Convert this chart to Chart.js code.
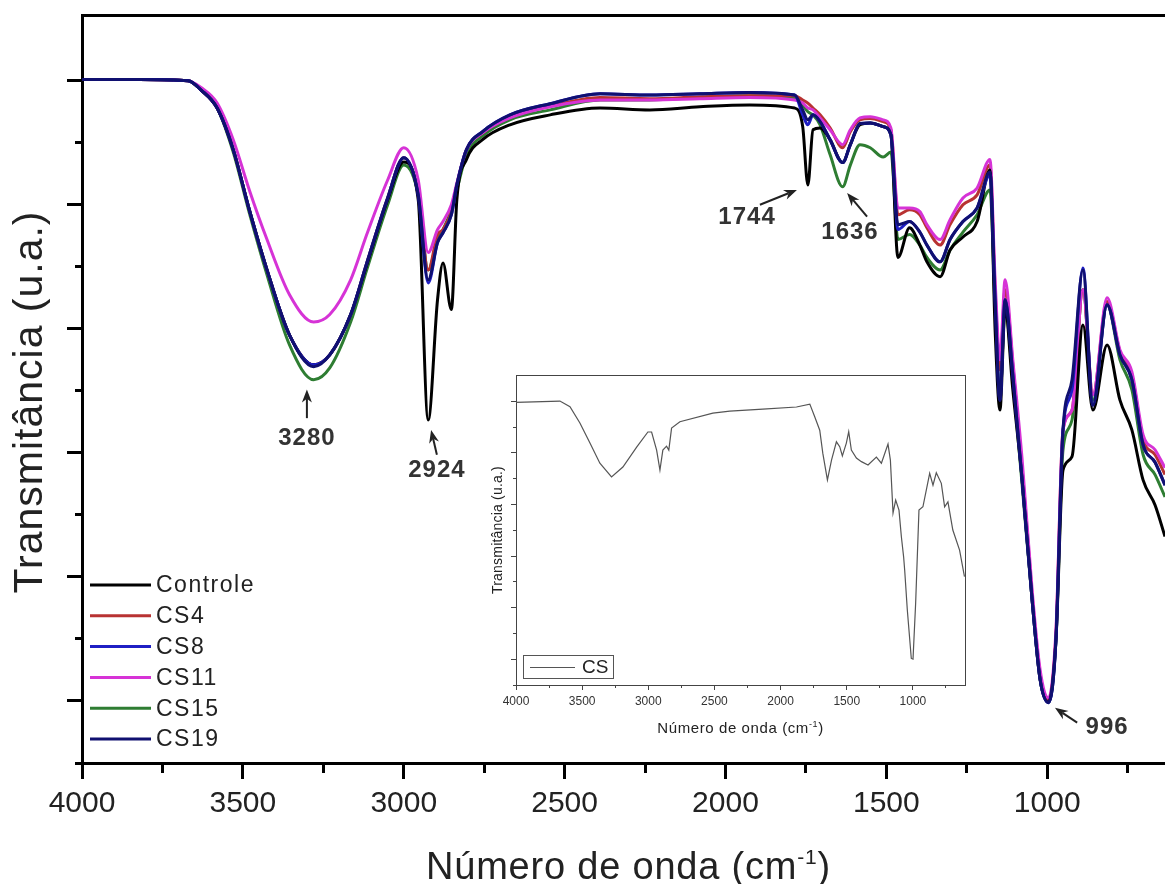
<!DOCTYPE html>
<html>
<head>
<meta charset="utf-8">
<script src="https://cdn.jsdelivr.net/npm/chart.js@4.4.1/dist/chart.umd.min.js"></script>
<style>
  body { margin: 0; background: #fff; }
  #wrap { position: relative; width: 1165px; height: 884px; overflow: hidden; background: #fff; }
  #mainChart { position: absolute; left: 0; top: 0; }
  #insetChart { position: absolute; left: 480px; top: 370px; background: #fff; }
</style>
</head>
<body>
<div id="wrap">
  <canvas id="mainChart" width="1165" height="884"></canvas>
  <canvas id="insetChart" width="490" height="380"></canvas>
</div>
<script>
var waveNumbers = [4000, 3820, 3670, 3630, 3580, 3530, 3480, 3425, 3355, 3280, 3230, 3165, 3115, 3050, 3000, 2955, 2924, 2895, 2878, 2852, 2835, 2805, 2755, 2670, 2545, 2390, 2235, 2080, 1925, 1785, 1760, 1744, 1728, 1706, 1675, 1636, 1612, 1582, 1550, 1510, 1486, 1464, 1428, 1396, 1374, 1333, 1302, 1262, 1218, 1178, 1162, 1147, 1131, 1107, 1078, 1047, 1022, 996, 973, 951, 923, 889, 858, 814, 774, 737, 702, 665, 634];

// transmittance (arbitrary units) per sample
var controle = [110.2, 110.2, 110.0, 108.5, 105.6, 98.9, 89.2, 79.5, 69.0, 64.2, 65.8, 72.3, 80.3, 90.8, 96.9, 90.8, 55.3, 74.7, 80.6, 73.1, 90.8, 97.3, 100.5, 102.9, 104.5, 105.6, 105.3, 105.8, 106.1, 105.6, 102.6, 93.2, 102.1, 102.4, 100.5, 96.8, 99.7, 102.9, 103.2, 102.6, 101.3, 81.5, 86.3, 83.5, 80.8, 78.4, 82.7, 84.8, 87.3, 95.6, 69.8, 56.9, 73.1, 60.2, 45.6, 26.3, 13.4, 9.8, 19.8, 47.2, 49.4, 70.6, 56.9, 67.4, 58.5, 53.7, 45.6, 41.6, 36.5];
var cs4 = [110.2, 110.2, 110.0, 108.5, 105.6, 98.9, 89.2, 79.5, 69.0, 64.2, 65.8, 72.3, 80.6, 91.1, 97.6, 91.9, 79.5, 85.2, 86.0, 88.9, 93.2, 98.9, 101.6, 104.2, 105.9, 107.3, 107.1, 107.4, 107.6, 107.6, 106.9, 106.4, 105.6, 104.5, 102.4, 99.2, 101.8, 103.7, 103.9, 103.4, 102.1, 88.4, 89.2, 88.4, 86.3, 83.5, 86.8, 90.0, 91.6, 96.4, 76.3, 63.4, 76.3, 64.2, 47.3, 27.1, 14.2, 10.2, 20.6, 53.7, 56.9, 76.3, 59.4, 74.4, 66.3, 62.6, 52.1, 49.7, 46.5];
var cs8 = [110.2, 110.2, 110.0, 108.5, 105.6, 98.9, 89.2, 79.5, 69.0, 64.2, 65.8, 72.3, 80.6, 91.1, 97.6, 91.6, 77.4, 83.9, 85.5, 88.4, 93.2, 98.9, 101.8, 104.5, 106.3, 107.9, 107.7, 107.9, 108.1, 107.7, 104.5, 102.9, 104.5, 103.4, 100.5, 96.8, 99.7, 103.1, 103.2, 102.6, 101.3, 86.0, 87.3, 85.6, 83.5, 80.8, 84.4, 87.3, 89.5, 94.8, 74.7, 58.5, 74.7, 62.6, 45.6, 26.3, 13.4, 9.7, 19.8, 53.7, 60.2, 79.8, 57.7, 73.9, 65.8, 61.8, 51.3, 48.5, 44.8];
var cs11 = [110.2, 110.2, 110.0, 108.9, 106.4, 100.5, 92.4, 84.4, 75.5, 71.1, 72.3, 77.9, 85.2, 94.0, 99.2, 94.0, 82.3, 86.0, 87.3, 90.0, 93.5, 98.9, 101.6, 104.0, 105.8, 106.9, 106.9, 107.1, 107.3, 106.9, 106.4, 105.6, 105.3, 104.0, 102.1, 99.7, 102.1, 104.0, 104.2, 103.7, 102.4, 89.5, 89.5, 88.9, 86.8, 84.4, 87.6, 91.1, 92.7, 97.3, 77.9, 65.0, 77.9, 65.0, 48.9, 27.9, 15.0, 10.5, 21.4, 53.7, 56.9, 76.3, 59.4, 75.0, 66.6, 63.1, 52.9, 50.5, 47.6];
var cs15 = [110.2, 110.2, 110.0, 108.5, 105.6, 98.5, 88.7, 78.7, 67.4, 61.8, 63.7, 71.1, 79.5, 90.0, 96.4, 91.6, 79.5, 84.4, 86.0, 89.2, 92.4, 98.1, 101.1, 103.7, 105.3, 106.9, 106.9, 107.3, 107.6, 107.3, 106.1, 105.0, 104.5, 102.9, 98.1, 92.9, 96.4, 99.7, 99.2, 97.7, 98.5, 84.4, 85.2, 83.5, 81.5, 79.5, 82.7, 85.6, 88.4, 92.4, 73.1, 59.4, 73.1, 61.8, 44.8, 26.3, 13.4, 9.8, 19.8, 50.5, 55.3, 76.3, 58.5, 73.9, 65.0, 60.2, 49.7, 46.5, 42.9];
var cs19 = [110.2, 110.2, 110.0, 108.5, 105.6, 98.9, 89.2, 79.5, 69.0, 63.9, 65.8, 72.3, 80.6, 91.1, 97.6, 91.6, 77.9, 83.9, 85.5, 88.4, 93.2, 98.9, 101.8, 104.5, 106.3, 107.9, 107.7, 107.9, 108.1, 107.7, 105.3, 103.7, 104.5, 103.4, 100.5, 96.8, 99.7, 103.1, 103.2, 102.6, 101.3, 86.8, 87.3, 85.6, 83.5, 80.8, 84.4, 87.3, 89.5, 95.3, 74.7, 58.5, 74.7, 62.6, 45.6, 26.3, 13.4, 9.7, 19.8, 53.7, 61.8, 79.5, 57.7, 73.9, 65.8, 61.8, 51.3, 48.5, 44.8];

var seriesNames = ['Controle', 'CS4', 'CS8', 'CS11', 'CS15', 'CS19'];
var seriesValues = [controle, cs4, cs8, cs11, cs15, cs19];

// inset: pure chitosan (CS) spectrum
var insetWave = [4000, 3668, 3592, 3517, 3441, 3366, 3278, 3192, 3088, 3003, 2975, 2937, 2912, 2890, 2862, 2845, 2824, 2761, 2512, 2384, 2134, 1880, 1779, 1742, 1704, 1681, 1646, 1615, 1578, 1553, 1533, 1503, 1485, 1465, 1427, 1389, 1339, 1276, 1238, 1188, 1170, 1150, 1130, 1105, 1087, 1070, 1062, 1042, 1012, 999, 979, 954, 924, 873, 848, 823, 785, 760, 735, 698, 647, 610];
var insetCS = [109.6, 110.1, 107.9, 101.6, 93.8, 86.0, 80.7, 84.5, 92.2, 98.1, 98.1, 91.1, 83.3, 91.1, 92.6, 91.1, 99.6, 102.1, 105.4, 106.2, 107.0, 107.8, 108.9, 104.0, 98.8, 89.9, 79.5, 87.2, 94.3, 92.4, 88.8, 93.8, 98.2, 91.1, 88.0, 86.6, 85.3, 88.4, 86.0, 93.4, 87.2, 66.7, 71.7, 67.8, 57.5, 49.7, 44.6, 29.1, 10.3, 10.0, 31.8, 67.8, 69.1, 82.1, 77.5, 82.3, 78.2, 69.1, 71.0, 60.1, 52.3, 42.0];

// tick values
var xMajorTicks = [4000, 3500, 3000, 2500, 2000, 1500, 1000];
var xMinorTicks = [3750, 3250, 2750, 2250, 1750, 1250, 750];
var yMajorTicks = [10, 30, 50, 70, 90, 110];
var yMinorTicks = [0, 20, 40, 60, 80, 100];

// peak labels with arrows (data coordinates)
var peakNotes = [
  { text: '3280', label: [3301, 52.4], tail: [3301, 55.6], tip: [3301, 60.2] },
  { text: '2924', label: [2897, 47.1], tail: [2897, 49.7], tip: [2915, 53.7] },
  { text: '1744', label: [1933, 87.9], tail: [1893, 90.0], tip: [1778, 92.4] },
  { text: '1636', label: [1613, 85.5], tail: [1560, 88.1], tip: [1622, 91.9] },
  { text: '996', label: [814, 5.8], tail: [907, 6.5], tip: [976, 8.9] }
];

var FONT = "'Liberation Sans', Arial, sans-serif";
var colors = ['#000000', '#b83232', '#1f1fc4', '#d633d6', '#2e7d32', '#101070'];
var drawOrder = [2, 4, 1, 3, 5, 0];

function toPoints(xs, ys) {
  return xs.map(function (x, i) { return { x: x, y: ys[i] }; });
}

function fixedTicks(values) {
  return function (axis) {
    axis.ticks = values.map(function (v) { return { value: v }; });
  };
}

// axis title with the -1 superscript
function drawWaveTitle(ctx, cx, cy, size, supSize, rise, spacing) {
  var base = 'Número de onda (cm', sup = '-1', end = ')';
  ctx.save();
  ctx.letterSpacing = spacing + 'px';
  ctx.fillStyle = '#222';
  ctx.textBaseline = 'alphabetic';
  ctx.textAlign = 'left';
  ctx.font = size + 'px ' + FONT;
  var w1 = ctx.measureText(base).width, w3 = ctx.measureText(end).width;
  ctx.font = supSize + 'px ' + FONT;
  var w2 = ctx.measureText(sup).width;
  var x = cx - (w1 + w2 + w3) / 2;
  var y = cy + size * 0.36;
  ctx.font = size + 'px ' + FONT;
  ctx.fillText(base, x, y);
  ctx.font = supSize + 'px ' + FONT;
  ctx.fillText(sup, x + w1, y - rise);
  ctx.font = size + 'px ' + FONT;
  ctx.fillText(end, x + w1 + w2, y);
  ctx.restore();
}

function drawTransTitle(ctx, cx, cy, size, spacing) {
  ctx.save();
  ctx.translate(cx, cy);
  ctx.rotate(-Math.PI / 2);
  ctx.letterSpacing = spacing + 'px';
  ctx.fillStyle = '#222';
  ctx.font = size + 'px ' + FONT;
  ctx.textAlign = 'center';
  ctx.textBaseline = 'middle';
  ctx.fillText('Transmitância (u.a.)', 0, 0);
  ctx.restore();
}

function drawArrow(ctx, x1, y1, x2, y2) {
  var a = Math.atan2(y2 - y1, x2 - x1);
  var len = 13, half = 5;
  ctx.beginPath();
  ctx.moveTo(x1, y1);
  ctx.lineTo(x2 - Math.cos(a) * len * 0.7, y2 - Math.sin(a) * len * 0.7);
  ctx.stroke();
  ctx.beginPath();
  ctx.moveTo(x2, y2);
  ctx.lineTo(x2 - Math.cos(a) * len - Math.sin(a) * half, y2 - Math.sin(a) * len + Math.cos(a) * half);
  ctx.lineTo(x2 - Math.cos(a) * len * 0.7, y2 - Math.sin(a) * len * 0.7);
  ctx.lineTo(x2 - Math.cos(a) * len + Math.sin(a) * half, y2 - Math.sin(a) * len - Math.cos(a) * half);
  ctx.closePath();
  ctx.fill();
}

var mainDecor = {
  id: 'mainDecor',
  afterDraw: function (chart) {
    var ctx = chart.ctx, area = chart.chartArea;
    var xs = chart.scales.x, ys = chart.scales.y;

    drawWaveTitle(ctx, (area.left + area.right) / 2 + 5, 865, 38, 21, 15, 0.8);
    drawTransTitle(ctx, 31, 402, 41, 1);

    // legend in the lower left corner of the plot
    ctx.save();
    ctx.font = '23px ' + FONT;
    ctx.letterSpacing = '1.5px';
    ctx.textBaseline = 'middle';
    ctx.textAlign = 'left';
    seriesNames.forEach(function (name, i) {
      var y = area.bottom - 178 + i * 30.8;
      ctx.strokeStyle = colors[i];
      ctx.lineWidth = 3;
      ctx.beginPath();
      ctx.moveTo(area.left + 8, y);
      ctx.lineTo(area.left + 69, y);
      ctx.stroke();
      ctx.fillStyle = '#222';
      ctx.fillText(name, area.left + 74, y + 1);
    });
    ctx.restore();

    // peak annotations
    ctx.save();
    ctx.strokeStyle = '#222';
    ctx.fillStyle = '#222';
    ctx.lineWidth = 2;
    peakNotes.forEach(function (n) {
      drawArrow(ctx, xs.getPixelForValue(n.tail[0]), ys.getPixelForValue(n.tail[1]),
        xs.getPixelForValue(n.tip[0]), ys.getPixelForValue(n.tip[1]));
    });
    ctx.font = 'bold 24px ' + FONT;
    ctx.letterSpacing = '1px';
    ctx.textAlign = 'center';
    ctx.textBaseline = 'middle';
    ctx.fillStyle = '#333';
    peakNotes.forEach(function (n) {
      ctx.fillText(n.text, xs.getPixelForValue(n.label[0]), ys.getPixelForValue(n.label[1]));
    });
    ctx.restore();
  }
};

var mainCtx = document.getElementById('mainChart').getContext('2d');
var mainChart = new Chart(mainCtx, {
  type: 'line',
  data: {
    datasets: seriesNames.map(function (name, i) {
      return {
        label: name,
        data: toPoints(waveNumbers, seriesValues[i]),
        borderColor: colors[i],
        borderWidth: 3,
        pointRadius: 0,
        fill: false,
        cubicInterpolationMode: 'monotone',
        order: drawOrder[i]
      };
    })
  },
  options: {
    responsive: false,
    animation: false,
    devicePixelRatio: 1,
    layout: { padding: { top: 15, right: 0, bottom: 0, left: 0 } },
    plugins: { legend: { display: false }, tooltip: { enabled: false } },
    scales: {
      x: {
        type: 'linear', position: 'bottom', reverse: true, min: 634, max: 4000, weight: 1,
        afterBuildTicks: fixedTicks(xMajorTicks),
        afterFit: function (s) { s.height = 121; },
        ticks: {
          color: '#222', font: { family: FONT, size: 30 }, padding: 7,
          maxRotation: 0, autoSkip: false,
          callback: function (v) { return String(v); }
        },
        grid: { drawOnChartArea: false, color: '#000', tickLength: 16, tickWidth: 3 },
        border: { color: '#000', width: 3 }
      },
      xMinor: {
        type: 'linear', position: 'bottom', reverse: true, min: 634, max: 4000, weight: 0,
        afterBuildTicks: fixedTicks(xMinorTicks),
        afterFit: function (s) { s.height = 0; },
        ticks: { display: false },
        grid: { drawOnChartArea: false, color: '#000', tickLength: 10, tickWidth: 3 },
        border: { display: false }
      },
      xTop: {
        type: 'linear', position: 'top', reverse: true, min: 634, max: 4000,
        afterFit: function (s) { s.height = 0; },
        ticks: { display: false },
        grid: { display: false },
        border: { color: '#000', width: 3 }
      },
      y: {
        type: 'linear', position: 'left', min: 0, max: 120.6, weight: 1,
        afterBuildTicks: fixedTicks(yMajorTicks),
        afterFit: function (s) { s.width = 82; },
        ticks: { display: false },
        grid: { drawOnChartArea: false, color: '#000', tickLength: 15, tickWidth: 3 },
        border: { color: '#000', width: 3 }
      },
      yMinor: {
        type: 'linear', position: 'left', min: 0, max: 120.6, weight: 0,
        afterBuildTicks: fixedTicks(yMinorTicks),
        afterFit: function (s) { s.width = 0; },
        ticks: { display: false },
        grid: { drawOnChartArea: false, color: '#000', tickLength: 7, tickWidth: 3 },
        border: { display: false }
      }
    }
  },
  plugins: [mainDecor]
});

// ---- inset chart ----
var insetDecor = {
  id: 'insetDecor',
  afterDraw: function (chart) {
    var ctx = chart.ctx, area = chart.chartArea;
    drawWaveTitle(ctx, (area.left + area.right) / 2, 358, 15, 9, 6, 0.6);
    drawTransTitle(ctx, 18, (area.top + area.bottom) / 2, 14, 0.2);

    ctx.save();
    ctx.strokeStyle = '#555';
    ctx.lineWidth = 1;
    ctx.strokeRect(area.left + 7.5, area.bottom - 29.5, 90, 23);
    ctx.beginPath();
    ctx.moveTo(area.left + 14, area.bottom - 17.5);
    ctx.lineTo(area.left + 59, area.bottom - 17.5);
    ctx.stroke();
    ctx.fillStyle = '#222';
    ctx.font = '19px ' + FONT;
    ctx.textBaseline = 'middle';
    ctx.fillText('CS', area.left + 66, area.bottom - 17);
    ctx.restore();
  }
};

var insetCtx = document.getElementById('insetChart').getContext('2d');
var insetChart = new Chart(insetCtx, {
  type: 'line',
  data: {
    datasets: [{
      label: 'CS',
      data: toPoints(insetWave, insetCS),
      borderColor: '#555',
      borderWidth: 1.2,
      pointRadius: 0,
      fill: false,
      tension: 0
    }]
  },
  options: {
    responsive: false,
    animation: false,
    devicePixelRatio: 1,
    layout: { padding: { top: 5, right: 5, bottom: 0, left: 0 } },
    plugins: { legend: { display: false }, tooltip: { enabled: false } },
    scales: {
      x: {
        type: 'linear', position: 'bottom', reverse: true, min: 606, max: 4000, weight: 1,
        afterBuildTicks: fixedTicks(xMajorTicks),
        afterFit: function (s) { s.height = 65; },
        ticks: {
          color: '#333', font: { family: FONT, size: 12 }, padding: 4,
          maxRotation: 0, autoSkip: false,
          callback: function (v) { return String(v); }
        },
        grid: { drawOnChartArea: false, color: '#444', tickLength: 5, tickWidth: 1 },
        border: { color: '#444', width: 1 }
      },
      xMinor: {
        type: 'linear', position: 'bottom', reverse: true, min: 606, max: 4000, weight: 0,
        afterBuildTicks: fixedTicks(xMinorTicks),
        afterFit: function (s) { s.height = 0; },
        ticks: { display: false },
        grid: { drawOnChartArea: false, color: '#444', tickLength: 3, tickWidth: 1 },
        border: { display: false }
      },
      xTop: {
        type: 'linear', position: 'top', reverse: true, min: 606, max: 4000,
        afterFit: function (s) { s.height = 0; },
        ticks: { display: false },
        grid: { display: false },
        border: { color: '#444', width: 1 }
      },
      y: {
        type: 'linear', position: 'left', min: 0, max: 120.2, weight: 1,
        afterBuildTicks: fixedTicks(yMajorTicks),
        afterFit: function (s) { s.width = 36; },
        ticks: { display: false },
        grid: { drawOnChartArea: false, color: '#444', tickLength: 5, tickWidth: 1 },
        border: { color: '#444', width: 1 }
      },
      yMinor: {
        type: 'linear', position: 'left', min: 0, max: 120.2, weight: 0,
        afterBuildTicks: fixedTicks(yMinorTicks),
        afterFit: function (s) { s.width = 0; },
        ticks: { display: false },
        grid: { drawOnChartArea: false, color: '#444', tickLength: 3, tickWidth: 1 },
        border: { display: false }
      },
      yRight: {
        type: 'linear', position: 'right', min: 0, max: 120.2,
        afterFit: function (s) { s.width = 0; },
        ticks: { display: false },
        grid: { display: false },
        border: { color: '#444', width: 1 }
      }
    }
  },
  plugins: [insetDecor]
});
</script>
</body>
</html>
